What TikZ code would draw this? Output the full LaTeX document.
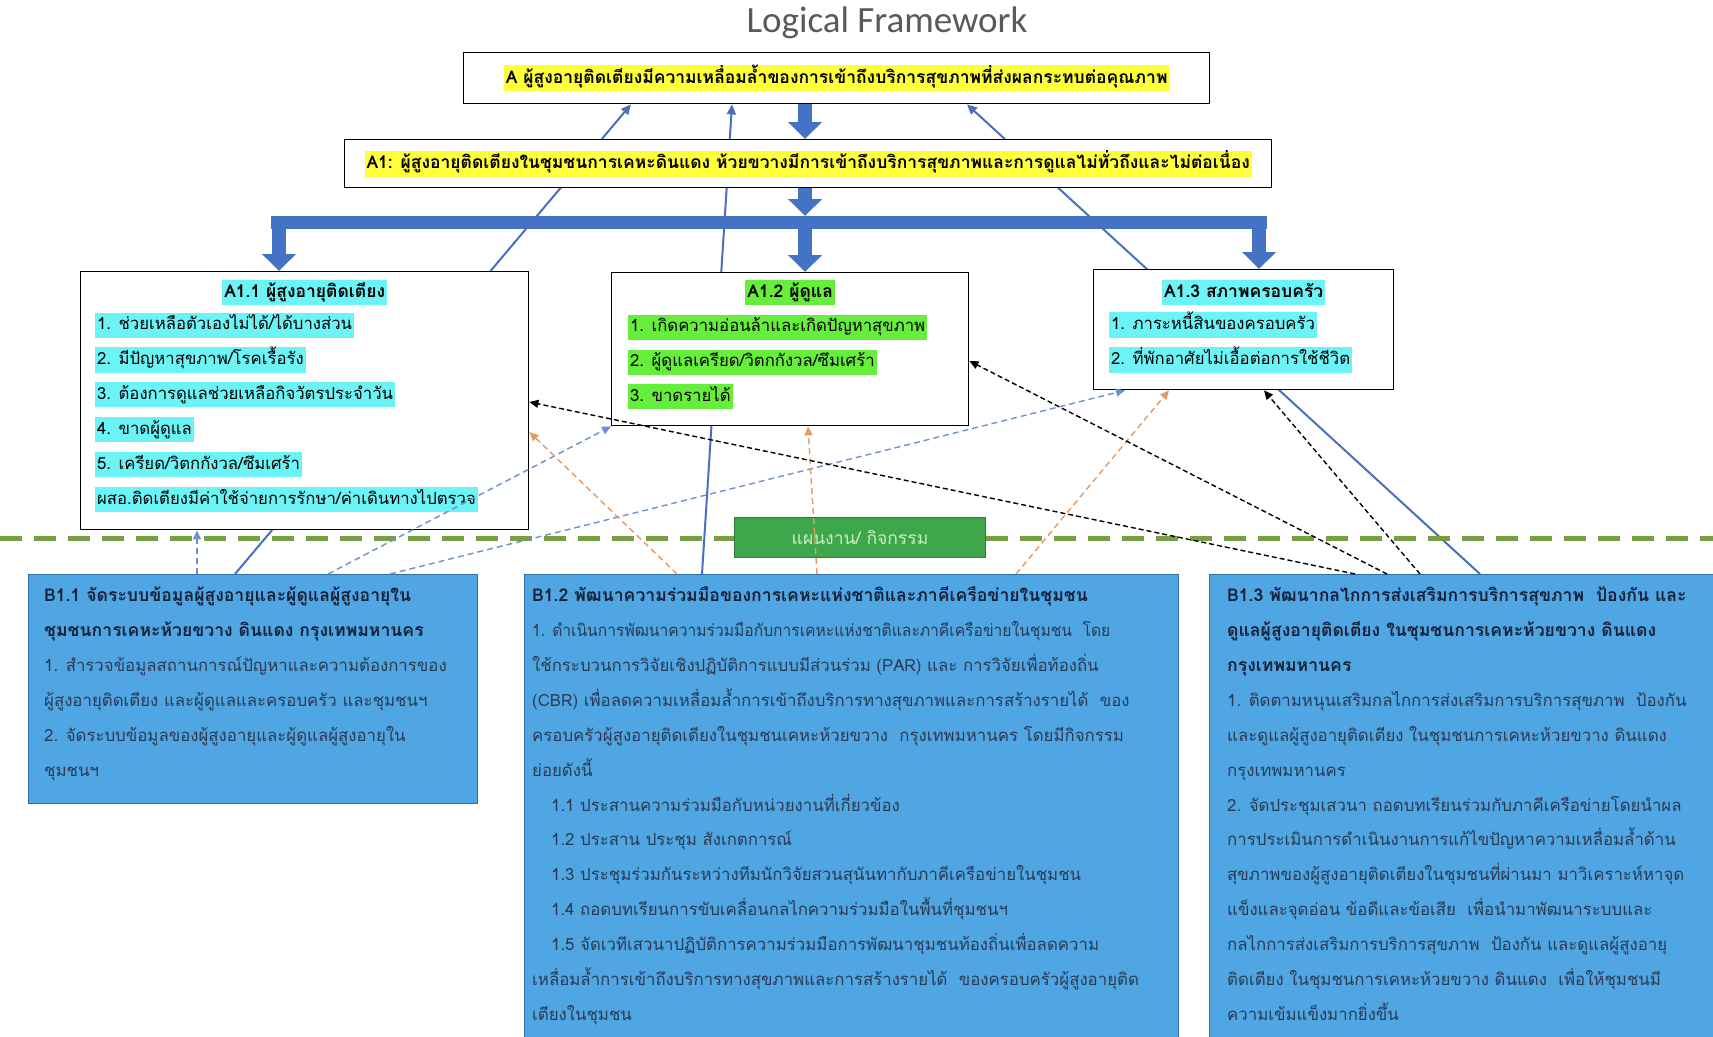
\documentclass[tikz,border=0pt]{standalone}
\usepackage{fontspec}
\newfontfamily\thaifont[Script=Thai]{Loma}
\newfontfamily\titlefont{Carlito}
\usetikzlibrary{arrows.meta,positioning,backgrounds}

\definecolor{bigblue}{HTML}{4472C4}
\definecolor{lineblue}{HTML}{4A6FBF}
\definecolor{dashblue}{HTML}{6F8FCF}
\definecolor{dashorange}{HTML}{E49A60}
\definecolor{hlyellow}{HTML}{FFFF3C}
\definecolor{hlcyan}{HTML}{6CF3F6}
\definecolor{hlgreen}{HTML}{66EE3C}
\definecolor{actblue}{HTML}{4FA6E2}
\definecolor{actedge}{HTML}{2F6FA8}
\definecolor{acttext}{HTML}{2B3A55}
\definecolor{acthead}{HTML}{17223A}
\definecolor{sepgreen}{HTML}{77A045}
\definecolor{plangreen}{HTML}{3EA64B}
\definecolor{planedge}{HTML}{2E7D36}
\definecolor{plantext}{HTML}{C9EFC4}
\definecolor{titlegray}{HTML}{595959}

% highlighted line of text
\newcommand\hlite[2]{{\setlength{\fboxsep}{0pt}\colorbox{#1}{\rule[-8pt]{0pt}{25pt}\hspace{2pt}#2\hspace{2pt}}}}
% bold heading line in an activity box
\newcommand\acthd[1]{{\fontsize{17.6}{34.9}\selectfont\bfseries\color{acthead}#1}}

\tikzset{
  probbox/.style={draw=black, line width=1.4pt, fill=white, inner sep=0pt, anchor=north west},
  actbox/.style={draw=actedge, line width=1pt, fill=actblue, inner sep=0pt, anchor=north west},
  planbox/.style={draw=planedge, line width=1pt, fill=plangreen, inner sep=0pt, anchor=north west,
    text=plantext, font=\thaifont\fontsize{17.5}{20}\selectfont},
  headtext/.style={font=\thaifont\bfseries\fontsize{17.5}{20}\selectfont},
  listtext/.style={inner sep=0pt, anchor=north west, align=left, font=\thaifont\fontsize{16.7}{34.9}\selectfont},
  hltitle/.style={inner sep=0pt, anchor=north, font=\thaifont\bfseries\fontsize{17.5}{20}\selectfont},
  acttextbox/.style={inner sep=0pt, anchor=north west, align=left, text=acttext,
    font=\thaifont\fontsize{16.8}{34.9}\selectfont},
  bigarrow/.style={draw=bigblue, line width=14pt, -{Triangle[width=33pt,length=17pt]}},
  thinarrow/.style={draw=lineblue, line width=2pt, -{Triangle[width=9pt,length=10pt]}},
  dasharrow/.style={line width=1.4pt, dash pattern=on 6pt off 4pt, -{Triangle[width=8pt,length=9pt]}}
}

\begin{document}
\begin{tikzpicture}[x=1pt,y=-1pt]
\useasboundingbox (0,0) rectangle (1713,1036);
\clip (0,0) rectangle (1713,1036);

\node[font=\titlefont\fontsize{37}{44}\selectfont, text=titlegray] (title) at (887,23) {Logical Framework};

% problems
\node[probbox, minimum width=746, minimum height=51, headtext] (A) at (463,52)
  {\hlite{hlyellow}{A ผู้สูงอายุติดเตียงมีความเหลื่อมล้ำของการเข้าถึงบริการสุขภาพที่ส่งผลกระทบต่อคุณภาพ}};
\node[probbox, minimum width=927, minimum height=48, headtext] (A1) at (344,139)
  {\hlite{hlyellow}{A1: ผู้สูงอายุติดเตียงในชุมชนการเคหะดินแดง ห้วยขวางมีการเข้าถึงบริการสุขภาพและการดูแลไม่ทั่วถึงและไม่ต่อเนื่อง}};

\node[probbox, minimum width=448, minimum height=258] (A11) at (80,271) {};
\node[hltitle] (A11h) at ([yshift=-9pt]A11.north) {\hlite{hlcyan}{A1.1 ผู้สูงอายุติดเตียง}};
\node[listtext] (A11l) at ([xshift=15pt,yshift=-34pt]A11.north west)
  {\strut\hlite{hlcyan}{1. ช่วยเหลือตัวเองไม่ได้/ได้บางส่วน}\\
   \hlite{hlcyan}{2. มีปัญหาสุขภาพ/โรคเรื้อรัง}\\
   \hlite{hlcyan}{3. ต้องการดูแลช่วยเหลือกิจวัตรประจำวัน}\\
   \hlite{hlcyan}{4. ขาดผู้ดูแล}\\
   \hlite{hlcyan}{5. เครียด/วิตกกังวล/ซึมเศร้า}\\
   \hlite{hlcyan}{ผสอ.ติดเตียงมีค่าใช้จ่ายการรักษา/ค่าเดินทางไปตรวจ}};

\node[probbox, minimum width=357, minimum height=153] (A12) at (611,272) {};
\node[hltitle] (A12h) at ([yshift=-8pt]A12.north) {\hlite{hlgreen}{A1.2 ผู้ดูแล}};
\node[listtext] (A12l) at ([xshift=17pt,yshift=-35pt]A12.north west)
  {\strut\hlite{hlgreen}{1. เกิดความอ่อนล้าและเกิดปัญหาสุขภาพ}\\
   \hlite{hlgreen}{2. ผู้ดูแลเครียด/วิตกกังวล/ซึมเศร้า}\\
   \hlite{hlgreen}{3. ขาดรายได้}};

\node[probbox, minimum width=300, minimum height=120] (A13) at (1093,269) {};
\node[hltitle] (A13h) at ([yshift=-11pt]A13.north) {\hlite{hlcyan}{A1.3 สภาพครอบครัว}};
\node[listtext] (A13l) at ([xshift=16pt,yshift=-36pt]A13.north west)
  {\strut\hlite{hlcyan}{1. ภาระหนี้สินของครอบครัว}\\
   \hlite{hlcyan}{2. ที่พักอาศัยไม่เอื้อต่อการใช้ชีวิต}};

% separator and plan label
\coordinate (sepL) at (0,538);
\coordinate (sepR) at (1713,538);
\draw[sepgreen, line width=5pt, dash pattern=on 22pt off 12pt] (sepL) -- (sepR);
\node[planbox, minimum width=251, minimum height=40] (plan) at (734,517) {แผนงาน/ กิจกรรม};

% activities
\node[actbox, minimum width=449, minimum height=229] (B11) at (28,574) {};
\node[acttextbox] (B11t) at ([xshift=16pt,yshift=-3pt]B11.north west)
  {\strut\acthd{B1.1 จัดระบบข้อมูลผู้สูงอายุและผู้ดูแลผู้สูงอายุใน}\\
   \acthd{ชุมชนการเคหะห้วยขวาง ดินแดง กรุงเทพมหานคร}\\
   1. สำรวจข้อมูลสถานการณ์ปัญหาและความต้องการของ\\
   ผู้สูงอายุติดเตียง และผู้ดูแลและครอบครัว และชุมชนฯ\\
   2. จัดระบบข้อมูลของผู้สูงอายุและผู้ดูแลผู้สูงอายุใน\\
   ชุมชนฯ};

\node[actbox, minimum width=654, minimum height=480] (B12) at (524,574) {};
\node[acttextbox] (B12t) at ([xshift=8pt,yshift=-3pt]B12.north west)
  {\strut\acthd{B1.2 พัฒนาความร่วมมือของการเคหะแห่งชาติและภาคีเครือข่ายในชุมชน}\\
   \scalebox{0.93}[1]{1. ดำเนินการพัฒนาความร่วมมือกับการเคหะแห่งชาติและภาคีเครือข่ายในชุมชน\ \ โดย}\\
   ใช้กระบวนการวิจัยเชิงปฏิบัติการแบบมีส่วนร่วม (PAR) และ การวิจัยเพื่อท้องถิ่น\\
   (CBR) เพื่อลดความเหลื่อมล้ำการเข้าถึงบริการทางสุขภาพและการสร้างรายได้\ \ ของ\\
   ครอบครัวผู้สูงอายุติดเตียงในชุมชนเคหะห้วยขวาง\ \ กรุงเทพมหานคร โดยมีกิจกรรม\\
   ย่อยดังนี้\\
   \hspace*{19pt}1.1 ประสานความร่วมมือกับหน่วยงานที่เกี่ยวข้อง\\
   \hspace*{19pt}1.2 ประสาน ประชุม สังเกตการณ์\\
   \hspace*{19pt}1.3 ประชุมร่วมกันระหว่างทีมนักวิจัยสวนสุนันทากับภาคีเครือข่ายในชุมชน\\
   \hspace*{19pt}1.4 ถอดบทเรียนการขับเคลื่อนกลไกความร่วมมือในพื้นที่ชุมชนฯ\\
   \hspace*{19pt}1.5 จัดเวทีเสวนาปฏิบัติการความร่วมมือการพัฒนาชุมชนท้องถิ่นเพื่อลดความ\\
   เหลื่อมล้ำการเข้าถึงบริการทางสุขภาพและการสร้างรายได้\ \ ของครอบครัวผู้สูงอายุติด\\
   เตียงในชุมชน};

\node[actbox, minimum width=520, minimum height=480] (B13) at (1209,574) {};
\node[acttextbox] (B13t) at ([xshift=18pt,yshift=-3pt]B13.north west)
  {\strut\acthd{B1.3 พัฒนากลไกการส่งเสริมการบริการสุขภาพ\ \ ป้องกัน และ}\\
   \acthd{ดูแลผู้สูงอายุติดเตียง ในชุมชนการเคหะห้วยขวาง ดินแดง}\\
   \acthd{กรุงเทพมหานคร}\\
   1. ติดตามหนุนเสริมกลไกการส่งเสริมการบริการสุขภาพ\ \ ป้องกัน\\
   และดูแลผู้สูงอายุติดเตียง ในชุมชนการเคหะห้วยขวาง ดินแดง\\
   กรุงเทพมหานคร\\
   2. จัดประชุมเสวนา ถอดบทเรียนร่วมกับภาคีเครือข่ายโดยนำผล\\
   การประเมินการดำเนินงานการแก้ไขปัญหาความเหลื่อมล้ำด้าน\\
   สุขภาพของผู้สูงอายุติดเตียงในชุมชนที่ผ่านมา มาวิเคราะห์หาจุด\\
   แข็งและจุดอ่อน ข้อดีและข้อเสีย\ \ เพื่อนำมาพัฒนาระบบและ\\
   กลไกการส่งเสริมการบริการสุขภาพ\ \ ป้องกัน และดูแลผู้สูงอายุ\\
   ติดเตียง ในชุมชนการเคหะห้วยขวาง ดินแดง\ \ เพื่อให้ชุมชนมี\\
   ความเข้มแข็งมากยิ่งขึ้น};

% big arrows down the problem tree
\coordinate (busL) at (271,222);
\coordinate (busR) at (1267,222);
\coordinate (busM) at (805,216);
\coordinate (dropL) at (279,222);
\coordinate (dropM) at (805,222);
\coordinate (dropR) at (1259,222);

\begin{scope}[on background layer]
  \fill[white] (0,0) rectangle (1713,1036);
  \draw[bigarrow] (A.south -| busM) -- (A1.north -| busM);
  \draw[bigarrow] (A1.south -| busM) -- (busM);
  \draw[draw=bigblue, line width=13pt] (busL) -- (busR);
  \draw[bigarrow] (dropL) -- (dropL |- A11.north);
  \draw[bigarrow] (dropM) -- (dropM |- A12.north);
  \draw[bigarrow] (dropR) -- (dropR |- A13.north);

  % activities up to the problem
  \draw[thinarrow] ([xshift=207pt]B11.north west) -- ([xshift=168pt]A.south west);
  \draw[thinarrow] ([xshift=178pt]B12.north west) -- ([xshift=269pt]A.south west);
  \draw[thinarrow] ([xshift=271pt]B13.north west) -- ([xshift=504pt]A.south west);
\end{scope}

% activities to the causes
\draw[dasharrow, dashblue] ([xshift=169pt]B11.north west) -- ([xshift=117pt]A11.south west);
\draw[dasharrow, dashblue] ([xshift=300pt]B11.north west) -- (A12.south west);
\draw[dasharrow, dashblue] ([xshift=362pt]B11.north west) -- ([xshift=32pt]A13.south west);
\draw[dasharrow, dashorange] ([xshift=153pt]B12.north west) -- ([yshift=-161pt]A11.north east);
\draw[dasharrow, dashorange] ([xshift=293pt]B12.north west) -- ([xshift=197pt]A12.south west);
\draw[dasharrow, dashorange] ([xshift=492pt]B12.north west) -- ([xshift=76pt]A13.south west);
\draw[dasharrow, black, dash pattern=on 5pt off 3pt] ([xshift=146pt]B13.north west) -- ([yshift=-131pt]A11.north east);
\draw[dasharrow, black, dash pattern=on 5pt off 3pt] ([xshift=178pt]B13.north west) -- ([yshift=-89pt]A12.north east);
\draw[dasharrow, black, dash pattern=on 5pt off 3pt] ([xshift=211pt]B13.north west) -- ([xshift=171pt]A13.south west);
\end{tikzpicture}
\end{document}
